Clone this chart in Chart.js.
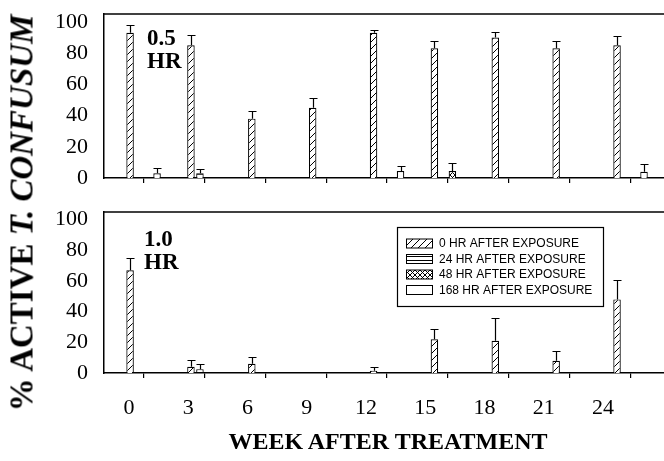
<!DOCTYPE html>
<html><head><meta charset="utf-8">
<script src="https://cdn.jsdelivr.net/npm/chart.js@4.4.0/dist/chart.umd.min.js"></script>
<style>
html,body{margin:0;padding:0;background:#fff;}
#wrap{position:relative;width:664px;height:461px;overflow:hidden;font-family:"Liberation Serif","Times New Roman",serif;color:#000;background:#fff;}
#c1{position:absolute;left:0;top:0;}
#c2{position:absolute;left:0;top:190px;}
.t{position:absolute;white-space:nowrap;font-weight:bold;line-height:1;}
</style></head><body>
<div id="wrap">
<canvas id="c1" width="664" height="190"></canvas>
<canvas id="c2" width="664" height="271"></canvas>
<div class="t" id="ytitle" style="font-size:33px;left:22px;top:213px;transform:translate(-50%,-50%) rotate(-90deg);">% ACTIVE <i>T. CONFUSUM</i></div>
<div class="t" style="font-size:24px;left:388px;top:441px;transform:translate(-50%,-50%);">WEEK AFTER TREATMENT</div>
<div class="t" style="font-size:23px;left:147px;top:26px;">0.5</div>
<div class="t" style="font-size:23px;left:147px;top:49px;">HR</div>
<div class="t" style="font-size:23px;left:144px;top:227px;">1.0</div>
<div class="t" style="font-size:23px;left:144px;top:250px;">HR</div>
</div>
<script>
const weeks = [0, 3, 6, 9, 12, 15, 18, 21, 24];
const yTicks = [0, 20, 40, 60, 80, 100];
const seriesNames = ['0 HR AFTER EXPOSURE', '24 HR AFTER EXPOSURE', '48 HR AFTER EXPOSURE', '168 HR AFTER EXPOSURE'];

// 0.5 HR panel
const p05_h0    = [93, 85, 38, 45, 93, 83, 90, 83, 85];
const p05_h0e   = [5, 6.5, 5, 6.5, 2, 4.5, 3.5, 4.5, 6];
const p05_h24   = [null, 3, null, null, null, null, null, null, null];
const p05_h24e  = [0, 3, 0, 0, 0, 0, 0, 0, 0];
const p05_h48   = [null, null, null, null, null, 4.5, null, null, null];
const p05_h48e  = [0, 0, 0, 0, 0, 5, 0, 0, 0];
const p05_h168  = [3, null, null, null, 4.5, null, null, null, 4];
const p05_h168e = [3.5, 0, 0, 0, 3.5, 0, 0, 0, 5];

// 1.0 HR panel
const p10_h0    = [67, 4, 6, null, 1.5, 22, 21, 8, 48];
const p10_h0e   = [8, 4.5, 4.5, 0, 2.5, 6.5, 15, 6.5, 12.5];
const p10_h24   = [null, 2.5, null, null, null, null, null, null, null];
const p10_h24e  = [0, 3.5, 0, 0, 0, 0, 0, 0, 0];
const p10_h48   = [null, null, null, null, null, null, null, null, null];
const p10_h48e  = [0, 0, 0, 0, 0, 0, 0, 0, 0];
const p10_h168  = [null, null, null, null, null, null, null, null, null];
const p10_h168e = [0, 0, 0, 0, 0, 0, 0, 0, 0];

function makePattern(kind) {
  const s = kind === 'horiz' ? 4 : (kind === 'cross' ? 5 : 7);
  const c = document.createElement('canvas');
  c.width = s; c.height = s;
  const g = c.getContext('2d');
  g.fillStyle = '#fff'; g.fillRect(0, 0, s, s);
  g.strokeStyle = '#000'; g.lineWidth = 1;
  g.beginPath();
  if (kind === 'diag' || kind === 'cross') {
    g.moveTo(-1, s + 1); g.lineTo(s + 1, -1);
    g.moveTo(-1, 1); g.lineTo(1, -1);
    g.moveTo(s - 1, s + 1); g.lineTo(s + 1, s - 1);
  }
  if (kind === 'cross') {
    g.moveTo(-1, -1); g.lineTo(s + 1, s + 1);
    g.moveTo(s - 1, -1); g.lineTo(s + 1, 1);
    g.moveTo(-1, s - 1); g.lineTo(1, s + 1);
  }
  if (kind === 'horiz') {
    g.moveTo(0, 2.5); g.lineTo(s, 2.5);
  }
  g.stroke();
  return g.createPattern(c, 'repeat');
}
const fills = [makePattern('diag'), makePattern('horiz'), makePattern('cross'), '#fff'];

const errPlugin = {
  id: 'errbars',
  afterDatasetsDraw(chart) {
    const ctx = chart.ctx, ys = chart.scales.y;
    ctx.save();
    ctx.strokeStyle = '#000'; ctx.lineWidth = 1.2;
    chart.data.datasets.forEach((ds, k) => {
      const meta = chart.getDatasetMeta(k);
      ds.data.forEach((pt, i) => {
        const e = ds.errors[i];
        if (pt.y == null || !e) return;
        const el = meta.data[i];
        const x = Math.round(el.x) + 0.5;
        const y0 = ys.getPixelForValue(pt.y);
        const y1 = Math.round(ys.getPixelForValue(pt.y + e)) + 0.5;
        ctx.beginPath();
        ctx.moveTo(x, y0); ctx.lineTo(x, y1);
        ctx.moveTo(x - 4, y1); ctx.lineTo(x + 4, y1);
        ctx.stroke();
      });
    });
    ctx.restore();
  }
};
const topLine = {
  id: 'topline',
  afterDraw(chart) {
    const a = chart.chartArea, ctx = chart.ctx;
    ctx.save(); ctx.strokeStyle = '#000'; ctx.lineWidth = 1.5;
    ctx.beginPath(); ctx.moveTo(a.left, a.top); ctx.lineTo(a.right, a.top); ctx.stroke();
    ctx.restore();
  }
};
const legendPlugin = {
  id: 'boxlegend',
  afterDraw(chart) {
    const ctx = chart.ctx;
    ctx.save();
    ctx.fillStyle = '#fff';
    ctx.fillRect(397, 37, 206, 79);
    ctx.strokeStyle = '#000'; ctx.lineWidth = 1.2;
    ctx.strokeRect(397.5, 37.5, 206, 79);
    const rows = [53.5, 69, 84.5, 100];
    ctx.font = '12px "Liberation Sans", Arial, sans-serif';
    ctx.textBaseline = 'middle';
    seriesNames.forEach((n, k) => {
      const y = rows[k];
      ctx.fillStyle = fills[k];
      ctx.fillRect(406, y - 4.5, 26, 9);
      ctx.lineWidth = 1;
      ctx.strokeStyle = '#000';
      ctx.strokeRect(406.5, y - 4.5, 26, 9);
      ctx.fillStyle = '#000';
      ctx.fillText(n, 439, y + 0.5);
    });
    ctx.restore();
  }
};

function makeChart(id, vals, errs, isBottom) {
  const scales = {
    x: {
      type: 'linear', min: -1.95, max: 25.65, offset: false, weight: 0,
      afterBuildTicks: s => { s.ticks = weeks.map(v => ({ value: v })); },
      afterFit: s => { s.height = isBottom ? 5 : 12; s.paddingLeft = 0; s.paddingRight = 0; },
      grid: { display: true, offset: false, drawOnChartArea: false, drawTicks: true, tickLength: 5, color: '#000', lineWidth: 1.2 },
      border: { display: true, color: '#000', width: 1.5 },
      ticks: { display: false }
    },
    y: {
      min: 0, max: 105,
      afterBuildTicks: s => { s.ticks = yTicks.map(v => ({ value: v })); },
      afterFit: s => { s.width = 104; s.paddingTop = 0; s.paddingBottom = 0; },
      grid: { display: false, drawTicks: false },
      border: { display: true, color: '#000', width: 1.5 },
      ticks: { padding: 16, font: { family: '"Liberation Serif"', size: 22 }, color: '#000' }
    }
  };
  if (isBottom) {
    scales.xl = {
      type: 'linear', position: 'bottom', axis: 'x', min: -1.266, max: 27.089, offset: false, weight: 1,
      afterBuildTicks: s => { s.ticks = weeks.map(v => ({ value: v })); },
      afterFit: s => { s.height = 83; s.paddingLeft = 0; s.paddingRight = 0; },
      grid: { display: false, drawTicks: false },
      border: { display: false },
      ticks: { padding: 17, autoSkip: false, maxRotation: 0,
               font: { family: '"Liberation Serif"', size: 22 }, color: '#000' }
    };
  }
  return new Chart(document.getElementById(id), {
    type: 'bar',
    data: {
      datasets: seriesNames.map((n, k) => ({
        label: n,
        data: weeks.map((w, i) => ({ x: w, y: vals[k][i] })),
        errors: errs[k],
        xAxisID: 'x',
        yAxisID: 'y',
        backgroundColor: fills[k],
        borderColor: '#000',
        borderWidth: 1.2,
        categoryPercentage: 0.591,
        barPercentage: 0.833
      }))
    },
    options: {
      responsive: false,
      animation: false,
      events: [],
      layout: { padding: { top: isBottom ? 22 : 14, left: 0, right: 0, bottom: 0 } },
      plugins: { legend: { display: false }, tooltip: { enabled: false } },
      scales
    },
    plugins: isBottom ? [errPlugin, topLine, legendPlugin] : [errPlugin, topLine]
  });
}

makeChart('c1', [p05_h0, p05_h24, p05_h48, p05_h168], [p05_h0e, p05_h24e, p05_h48e, p05_h168e], false);
makeChart('c2', [p10_h0, p10_h24, p10_h48, p10_h168], [p10_h0e, p10_h24e, p10_h48e, p10_h168e], true);
</script>
</body></html>
